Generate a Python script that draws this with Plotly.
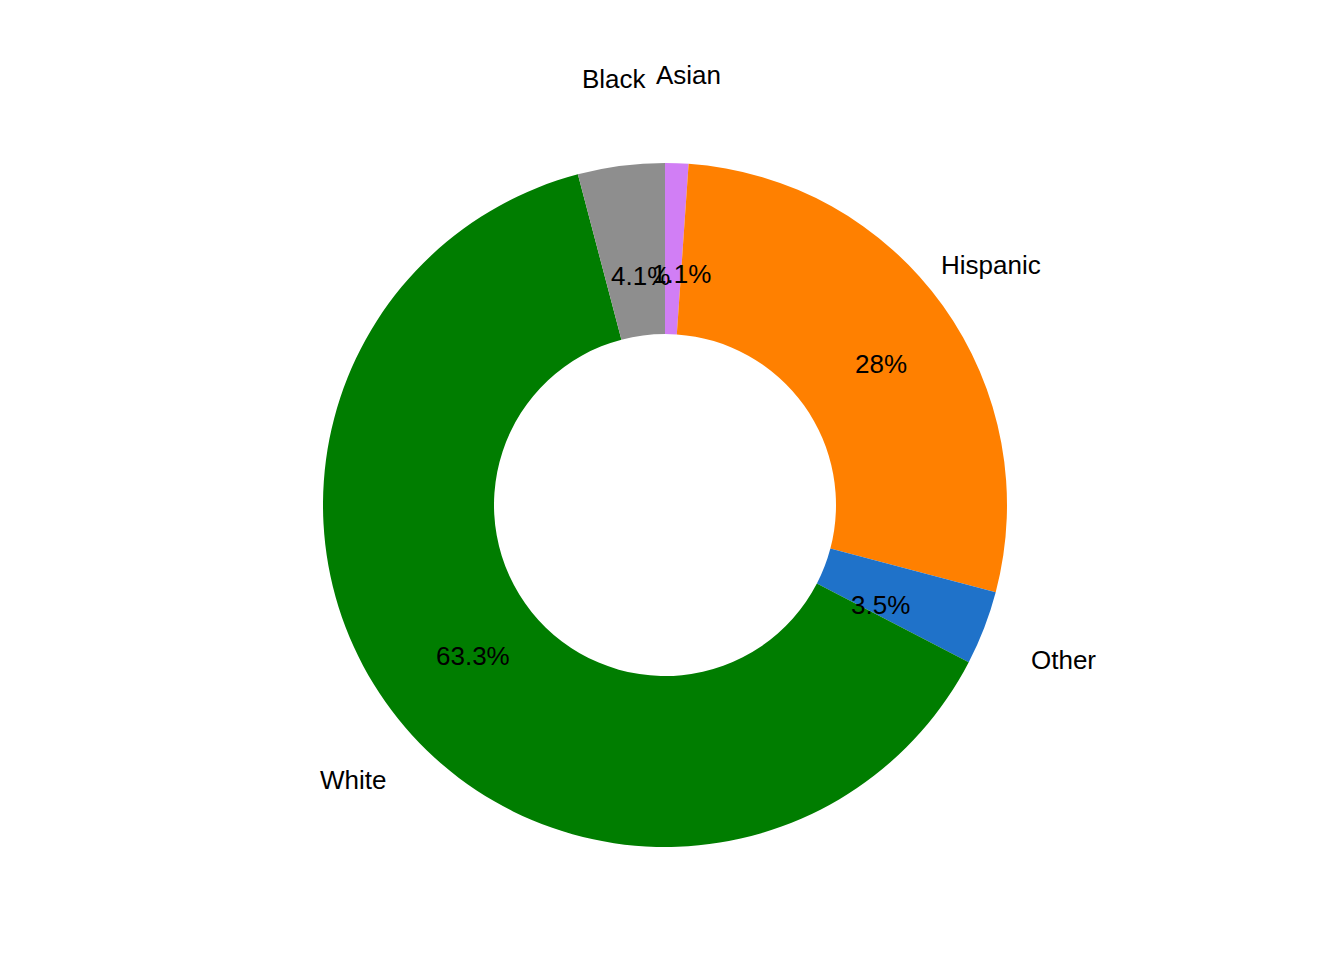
import math
import plotly.graph_objects as go

groups = ["Asian", "Hispanic", "Other", "White", "Black"]
shares = [1.1, 28.0, 3.5, 63.3, 4.1]
pct_labels = ["1.1%", "28%", "3.5%", "63.3%", "4.1%"]
colors = ["#D17EF5", "#FF8000", "#1F72C9", "#007D00", "#8E8E8E"]

W, H = 1344, 960
cx, cy = 665, 505  # pixel centre of the donut
off = 8            # plotly draws the domain slightly offset
r_out = 342

fig = go.Figure(go.Pie(
    labels=groups, values=shares, sort=False, direction="clockwise", rotation=0,
    hole=0.5, marker=dict(colors=colors, line=dict(width=0)),
    textinfo="none", hoverinfo="label+percent", showlegend=False,
    domain=dict(x=[(cx - off - r_out) / W, (cx - off + r_out) / W],
                y=[1 - (cy - off + r_out) / H, 1 - (cy - off - r_out) / H]),
))

# labels placed around the ring from the cumulative shares
total = sum(shares)
cum = 0
for g, s, p in zip(groups, shares, pct_labels):
    mid = (cum + s / 2) / total * 2 * math.pi
    cum += s
    for txt, r in ((p, 256), (g, 455)):
        fig.add_annotation(
            x=(cx + r * math.sin(mid)) / W, y=1 - (cy - r * math.cos(mid)) / H,
            xref="paper", yref="paper", text=txt, showarrow=False,
            font=dict(size=26, color="black", family="Liberation Sans, Arial"))

fig.update_layout(width=W, height=H, margin=dict(l=0, r=0, t=0, b=0),
                  paper_bgcolor="white", plot_bgcolor="white")
fig.write_html("out.html")
